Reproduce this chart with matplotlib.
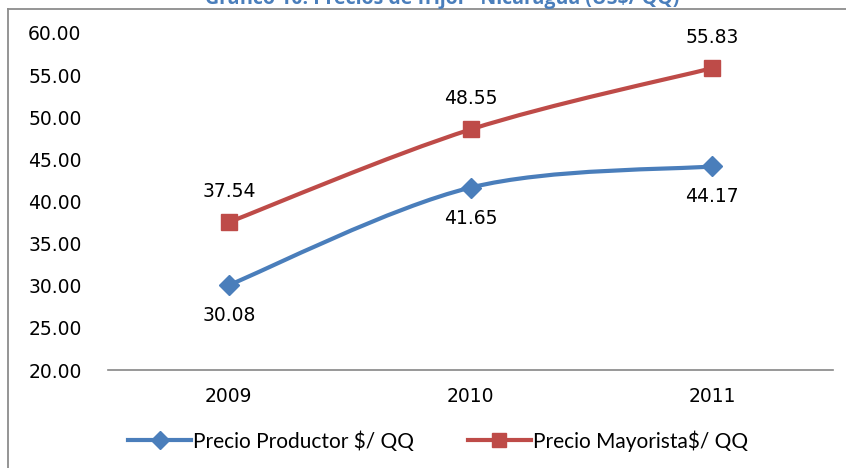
import matplotlib
matplotlib.use("Agg")
import matplotlib.pyplot as plt
import numpy as np
from matplotlib.path import Path
from matplotlib.patches import PathPatch
from matplotlib.lines import Line2D

years = ["2009", "2010", "2011"]
productor = [30.08, 41.65, 44.17]
mayorista = [37.54, 48.55, 55.83]
yticks = [20, 25, 30, 35, 40, 45, 50, 55, 60]

blue = "#4A7EBB"
red = "#BE4B48"

W, H = 846, 468
fig = plt.figure(figsize=(W / 100, H / 100), dpi=100)
ax = fig.add_axes([108 / W, 1 - 370 / H, (833 - 108) / W, (370 - 33) / H])


def smooth_path(xs, ys):
    # Excel-style smoothed line: cubic bezier through the points
    pts = np.column_stack([xs, ys])
    n = len(pts)
    verts = [pts[0]]
    codes = [Path.MOVETO]
    for i in range(n - 1):
        p0 = pts[i - 1] if i > 0 else pts[i]
        p1 = pts[i]
        p2 = pts[i + 1]
        p3 = pts[i + 2] if i + 2 < n else pts[i + 1]
        c1 = p1 + (p2 - p0) / 6
        c2 = p2 - (p3 - p1) / 6
        verts += [c1, c2, p2]
        codes += [Path.CURVE4] * 3
    return Path(verts, codes)


x = np.arange(len(years))
for vals, col, mk, ms in [(productor, blue, "D", 10), (mayorista, red, "s", 11.5)]:
    ax.add_patch(PathPatch(smooth_path(x, vals), fill=False, edgecolor=col,
                           lw=3, capstyle="round", zorder=2))
    ax.plot(x, vals, ls="none", marker=mk, ms=ms, color=col, zorder=3)

for xi, v in zip(x, productor):
    ax.annotate(f"{v:.2f}", (xi, v), xytext=(0, -22), textcoords="offset points",
                ha="center", va="center", fontsize=13.5, color="black")
for xi, v in zip(x, mayorista):
    ax.annotate(f"{v:.2f}", (xi, v), xytext=(0, 22), textcoords="offset points",
                ha="center", va="center", fontsize=13.5, color="black")

ax.set_xlim(-0.5, 2.5)
ax.set_ylim(20, 60)
ax.set_yticks(yticks)
ax.set_yticklabels([f"{t:.2f}" for t in yticks])
ax.set_xticks(x)
ax.set_xticklabels(years)
ax.tick_params(axis="both", length=0, labelsize=13.5, colors="black")
ax.tick_params(axis="y", pad=19)
ax.tick_params(axis="x", pad=12)
for s in ["top", "right", "left"]:
    ax.spines[s].set_visible(False)
ax.spines["bottom"].set_color("#868686")
ax.spines["bottom"].set_linewidth(1.2)

# chart frame (left and top edges visible)
fig.add_artist(Line2D([8 / W, 8 / W], [0, 1 - 9 / H], transform=fig.transFigure,
                      color="#8C8C8C", lw=1.3))
fig.add_artist(Line2D([8 / W, 1], [1 - 9 / H, 1 - 9 / H], transform=fig.transFigure,
                      color="#8C8C8C", lw=1.3))

# title, cut off at the top edge as in the source
fig.text(442 / W, 1 - 4 / H, "Gráfico 10: Precios de frijol - Nicaragua (US$/ QQ)",
         ha="center", va="baseline", fontsize=14, fontweight="bold", color=blue,
         family="Open Sans")

handles = [Line2D([], [], color=blue, lw=3, marker="D", ms=9),
           Line2D([], [], color=red, lw=3, marker="s", ms=10)]
fig.legend(handles, ["Precio Productor $/ QQ", "Precio Mayorista$/ QQ"],
           loc="center", bbox_to_anchor=(438 / W, 1 - 441 / H), ncol=2, frameon=False,
           handlelength=3.0, handletextpad=0.1, columnspacing=2.6,
           prop={"family": "Lato", "size": 15})

fig.savefig("out.png", dpi=100)
